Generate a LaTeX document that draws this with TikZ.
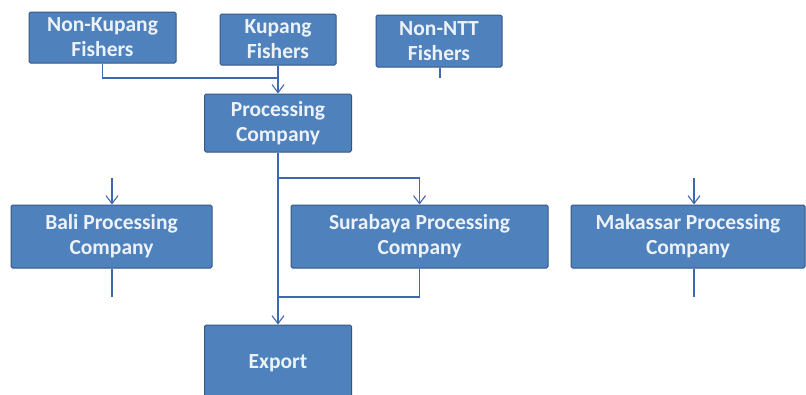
\documentclass[tikz,border=0pt]{standalone}
\usepackage{fontspec}
\setmainfont{Carlito}
\usetikzlibrary{%
  arrows.meta,%
  positioning% wg. " of "
}
\definecolor{boxblue}{RGB}{79,129,189}
\definecolor{boxedge}{RGB}{52,88,134}
\definecolor{linkblue}{RGB}{64,104,172}
\definecolor{boxtext}{RGB}{236,242,248}

\begin{document}
\begin{tikzpicture}
  [
  x=1pt, y=-1pt,
  line width=1.1pt,
  >={Straight Barb[length=8pt,width=12pt]},
  stagebox/.style={rectangle, rounded corners=1.5pt, fill=boxblue, draw=boxedge, line width=1pt,
    text=boxtext, font=\fontsize{21.5}{25}\selectfont\bfseries, align=center, inner sep=0pt},
  link/.style={draw=linkblue, line width=1.1pt},
  ]
  \useasboundingbox (0,0) rectangle (806,394);

  % sources
  \node[stagebox, minimum width=147pt, minimum height=51pt] (nonkupang) at (102.5,37.5) {Non-Kupang\\Fishers};
  \node[stagebox, minimum width=116pt, minimum height=51pt] (kupang) at (278,39.5) {Kupang\\Fishers};
  \node[stagebox, minimum width=126pt, minimum height=52pt] (nonntt) at (439,41) {Non-NTT\\Fishers};

  \node[stagebox, minimum width=147pt, minimum height=58pt] (processing) at (278,123) {Processing\\Company};

  % processors
  \node[stagebox, minimum width=201pt, minimum height=63pt] (bali) at (111.5,236.5) {Bali Processing\\Company};
  \node[stagebox, minimum width=257pt, minimum height=63pt] (surabaya) at (419.5,236.5) {Surabaya Processing\\Company};
  \node[stagebox, minimum width=234pt, minimum height=63pt] (makassar) at (688,236.5) {Makassar Processing\\Company};

  \node[stagebox, minimum width=147pt, minimum height=76pt] (export) at (278,363) {Export};

  % links
  \coordinate (fishjoin) at (278,78);
  \draw[link] (nonkupang.south) |- (fishjoin);
  \draw[link,->] (kupang.south) -- (processing.north);
  \coordinate (nonnttend) at (440,78);
  \draw[link] (nonntt.south -| nonnttend) -- (nonnttend);

  \draw[link,->] (processing.south) -- (export.north);
  \coordinate (split) at (278,178);
  \draw[link,->] (split) -| (surabaya.north);
  \coordinate (merge) at (278,297);
  \draw[link] (surabaya.south) |- (merge);

  \coordinate (baliin) at (112,178);
  \coordinate (baliout) at (112,297);
  \draw[link,->] (baliin) -- (bali.north -| baliin);
  \draw[link] (bali.south -| baliout) -- (baliout);

  \coordinate (makassarin) at (694,178);
  \coordinate (makassarout) at (694,297);
  \draw[link,->] (makassarin) -- (makassar.north -| makassarin);
  \draw[link] (makassar.south -| makassarout) -- (makassarout);
\end{tikzpicture}
\end{document}
